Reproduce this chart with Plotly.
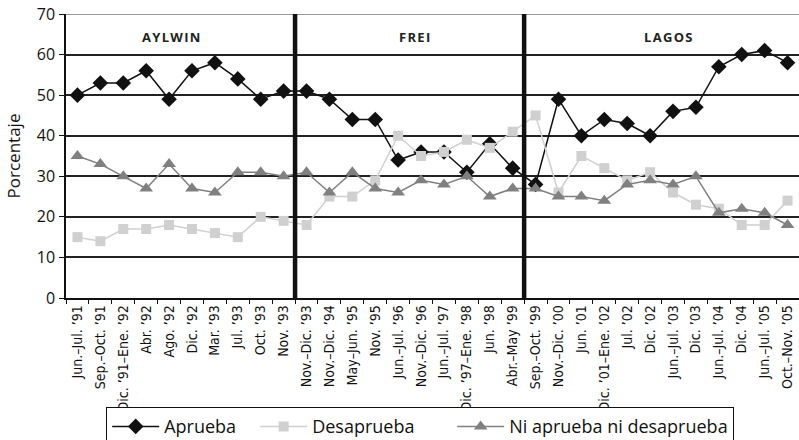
import plotly.graph_objects as go

categories = [
    "Jun.–Jul. ’91", "Sep.–Oct. ’91", "Dic. ’91–Ene. ’92", "Abr. ’92", "Ago. ’92",
    "Dic. ’92", "Mar. ’93", "Jul. ’93", "Oct. ’93", "Nov. ’93",
    "Nov.–Dic. ’93", "Nov.–Dic. ’94", "May–Jun. ’95", "Nov. ’95", "Jun.–Jul. ’96",
    "Nov.–Dic. ’96", "Jun.–Jul. ’97", "Dic. ’97–Ene. ’98", "Jun. ’98", "Abr.–May ’99",
    "Sep.–Oct. ’99", "Nov.–Dic. ’00", "Jun. ’01", "Dic. ’01–Ene. ’02", "Jul. ’02",
    "Dic. ’02", "Jun.–Jul. ’03", "Dic. ’03", "Jun.–Jul. ’04", "Dic. ’04",
    "Jun.–Jul. ’05", "Oct.–Nov. ’05",
]
aprueba = [50, 53, 53, 56, 49, 56, 58, 54, 49, 51,
           51, 49, 44, 44, 34, 36, 36, 31, 38, 32,
           28, 49, 40, 44, 43, 40, 46, 47, 57, 60, 61, 58]
desaprueba = [15, 14, 17, 17, 18, 17, 16, 15, 20, 19,
              18, 25, 25, 29, 40, 35, 36, 39, 37, 41,
              45, 26, 35, 32, 29, 31, 26, 23, 22, 18, 18, 24]
ni = [35, 33, 30, 27, 33, 27, 26, 31, 31, 30,
      31, 26, 31, 27, 26, 29, 28, 30, 25, 27,
      27, 25, 25, 24, 28, 29, 28, 30, 21, 22, 21, 18]
periods = ["AYLWIN", "FREI", "LAGOS"]
period_centers = [4.1, 14.7, 25.8]
dividers = [9.5, 19.5]

narrow = "Liberation Sans Narrow, DejaVu Sans Condensed, sans-serif"
sans = "Open Sans, sans-serif"

W, H = 799, 440

fig = go.Figure()
fig.add_trace(go.Scatter(x=categories, y=aprueba, name="Aprueba" + "\u00a0" * 3, mode="lines+markers",
                         line=dict(color="#111111", width=1.5),
                         marker=dict(symbol="diamond", size=12, color="#111111")))
fig.add_trace(go.Scatter(x=categories, y=desaprueba, name="Desaprueba" + "\u00a0" * 7, mode="lines+markers",
                         line=dict(color="#d0d0d0", width=1.5),
                         marker=dict(symbol="square", size=10, color="#d0d0d0")))
fig.add_trace(go.Scatter(x=categories, y=ni, name="Ni aprueba ni desaprueba", mode="lines+markers",
                         line=dict(color="#808080", width=1.5),
                         marker=dict(symbol="triangle-up", size=12, color="#808080")))

for d in dividers:
    fig.add_shape(type="line", x0=d, x1=d, y0=0, y1=70, xref="x", yref="y",
                  line=dict(color="#111111", width=4.5))
fig.add_shape(type="line", x0=0, x1=1, y0=70, y1=70, xref="paper", yref="y",
              line=dict(color="#999999", width=2), layer="below")

for p, c in zip(periods, period_centers):
    fig.add_annotation(x=c, y=64.3, xref="x", yref="y", text="<b>" + "\u200a".join(p) + "</b>",
                       showarrow=False, font=dict(size=13, color="#222222", family=sans))

fig.update_layout(
    width=W, height=H,
    margin=dict(l=66, r=0, t=14, b=142, autoexpand=False),
    paper_bgcolor="white", plot_bgcolor="white",
    font=dict(family=sans, color="#111111"),
    showlegend=True,
    legend=dict(orientation="h", xref="container", yref="container",
                x=420 / W, xanchor="center", y=1 - 407 / H, yanchor="top",
                bordercolor="#111111", borderwidth=1.2, font=dict(size=18, family=sans),
                itemwidth=47, traceorder="normal"),
    xaxis=dict(type="category", range=[-0.5, 31.5], tickangle=-90,
               tickfont=dict(size=14, family=narrow),
               showgrid=False, showline=True, linecolor="#111111", linewidth=1.5,
               ticks="outside", tickson="boundaries", ticklen=4, tickcolor="#111111",
               automargin=False),
    yaxis=dict(range=[0, 70], dtick=10, tickfont=dict(size=16, family=sans),
               title=dict(text="Porcentaje", font=dict(size=17, family=sans), standoff=12),
               showgrid=True, gridcolor="#222222", gridwidth=1.5,
               showline=True, linecolor="#111111", linewidth=1.5,
               ticks="outside", ticklen=5, tickcolor="#111111", zeroline=False,
               ticklabelstandoff=1, ticklabeloverflow="allow", automargin=False),
)

fig.write_html("out.html", config={"displayModeBar": False},
               post_script="document.body.style.margin='0px';document.body.style.overflow='hidden';")
